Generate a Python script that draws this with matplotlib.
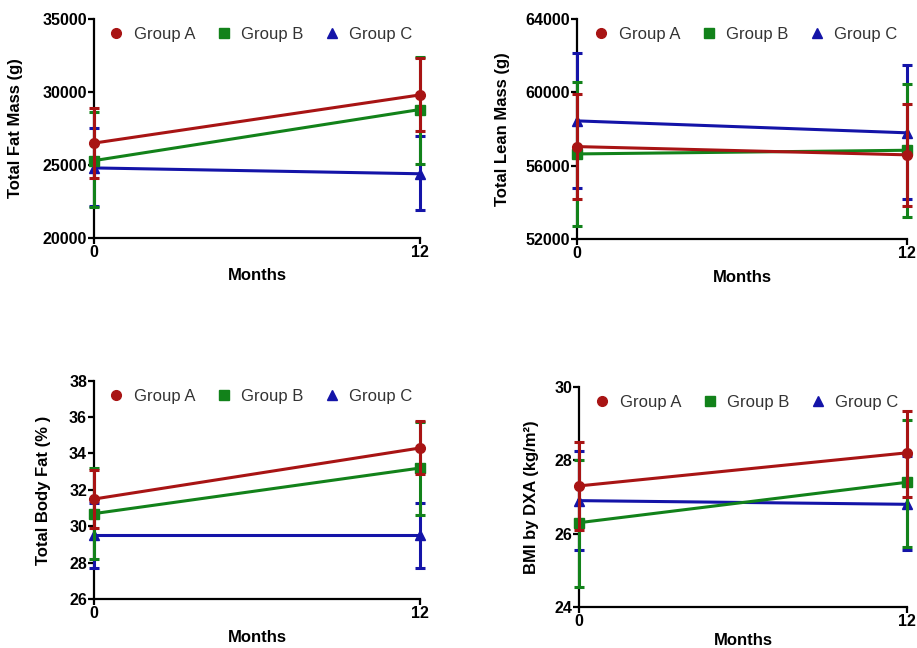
import matplotlib
matplotlib.use("Agg")
import matplotlib.pyplot as plt
from matplotlib.lines import Line2D

plt.rcParams['font.family'] = ['Liberation Sans', 'DejaVu Sans']

months = [0, 12]
groups = ["Group A", "Group B", "Group C"]
colors = ["#a81414", "#12821a", "#1414a8"]
markers = ["o", "s", "^"]

# total fat mass (g)
fat_mass = [[26500, 29800], [25300, 28800], [24800, 24400]]
fat_mass_lo = [[24100, 27300], [22100, 25050], [22200, 21900]]
fat_mass_hi = [[28900, 32300], [28600, 32400], [27500, 27000]]

# total lean mass (g)
lean_mass = [[57050, 56600], [56650, 56850], [58450, 57800]]
lean_mass_lo = [[54200, 53800], [52750, 53200], [54800, 54200]]
lean_mass_hi = [[59900, 59350], [60550, 60450], [62150, 61500]]

# total body fat (%)
body_fat = [[31.5, 34.3], [30.7, 33.2], [29.5, 29.5]]
body_fat_lo = [[29.9, 32.9], [28.2, 30.6], [27.7, 27.7]]
body_fat_hi = [[33.1, 35.8], [33.2, 35.75], [31.3, 31.3]]

# BMI by DXA
bmi = [[27.3, 28.2], [26.3, 27.4], [26.9, 26.8]]
bmi_lo = [[26.1, 27.0], [24.55, 25.65], [25.55, 25.55]]
bmi_hi = [[28.5, 29.35], [28.0, 29.1], [28.25, 28.1]]

panels = [
    ([0.1025, 0.6327, 0.3555, 0.338], fat_mass, fat_mass_lo, fat_mass_hi,
     "Total Fat Mass (g)", (20000, 35000), [20000, 25000, 30000, 35000], 14, 6),
    ([0.6292, 0.6307, 0.360, 0.340], lean_mass, lean_mass_lo, lean_mass_hi,
     "Total Lean Mass (g)", (52000, 64000), [52000, 56000, 60000, 64000], 11, 6),
    ([0.1025, 0.0752, 0.3555, 0.3375], body_fat, body_fat_lo, body_fat_hi,
     "Total Body Fat (% )", (26, 38), [26, 28, 30, 32, 34, 36, 38], 13, 6),
    ([0.6314, 0.0628, 0.3577, 0.3406], bmi, bmi_lo, bmi_hi,
     "BMI by DXA (kg/m²)", (24, 30), [24, 26, 28, 30], 11, 3),
]

fig = plt.figure(figsize=(9.17, 6.48), dpi=100)

for rect, vals, lo, hi, ylab, ylim, yticks, ypad, xpad in panels:
    ax = fig.add_axes(rect)
    # draw blue first so red ends up on top
    for i in [2, 1, 0]:
        err = [[v - l for v, l in zip(vals[i], lo[i])],
               [h - v for v, h in zip(vals[i], hi[i])]]
        cont = ax.errorbar(months, vals[i], yerr=err, color=colors[i], marker=markers[i],
                           markersize=7, linewidth=2.2, elinewidth=2.2, capsize=3.5,
                           capthick=2.2, zorder=3 + (2 - i))
        for art in cont.lines[0:1] + tuple(cont.lines[1]) + tuple(cont.lines[2]):
            art.set_clip_on(False)
    ax.set_xlim(0, 12)
    ax.set_ylim(*ylim)
    ax.set_xticks(months)
    ax.set_yticks(yticks)
    ax.spines['top'].set_visible(False)
    ax.spines['right'].set_visible(False)
    ax.spines['left'].set_linewidth(1.6)
    ax.spines['bottom'].set_linewidth(1.6)
    ax.tick_params(width=1.6, length=4, labelsize=11.5, pad=1)
    for lab in ax.get_xticklabels() + ax.get_yticklabels():
        lab.set_fontweight('bold')
    ax.set_ylabel(ylab, fontsize=12, fontweight='bold', labelpad=ypad)
    ax.set_xlabel("Months", fontsize=12, fontweight='bold', labelpad=xpad)
    handles = [Line2D([], [], color=c, marker=m, linestyle='none', markersize=7)
               for c, m in zip(colors, markers)]
    ax.legend(handles, groups, ncol=3, frameon=False, fontsize=12, loc='upper center',
              bbox_to_anchor=(0.51, 1.032), handlelength=1.0, handletextpad=0.55,
              columnspacing=1.2, labelcolor='#333333')

fig.savefig("out.png", dpi=100)
